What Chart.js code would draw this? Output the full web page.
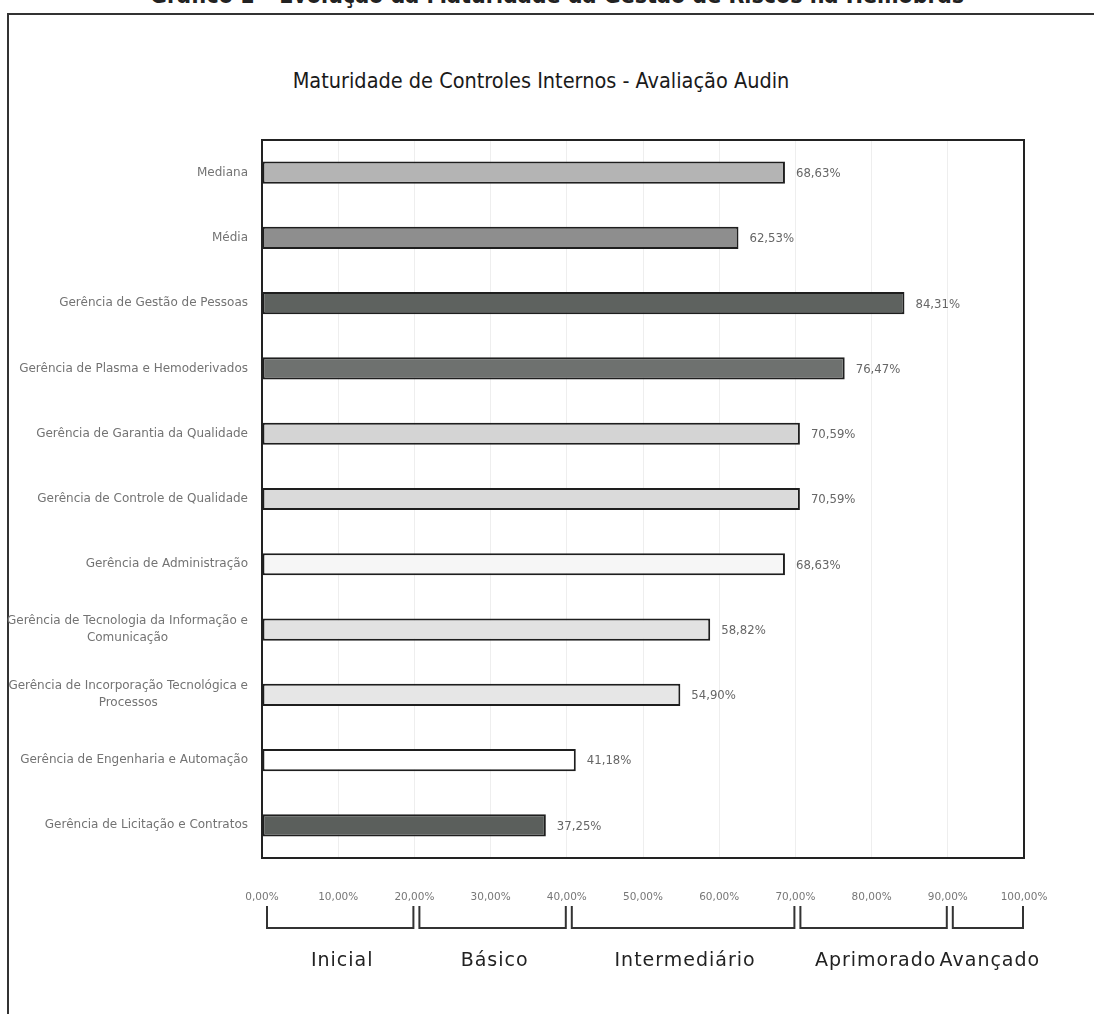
<!DOCTYPE html>
<html>
<head>
<meta charset="utf-8">
<script src="https://cdn.jsdelivr.net/npm/chart.js@4.4.1/dist/chart.umd.min.js"></script>
<style>
  html, body { margin: 0; padding: 0; background: #fff; }
  body { width: 1094px; height: 1014px; position: relative; overflow: hidden; }
  #caption {
    position: absolute; left: 0; width: 1114px; top: -18px; text-align: center;
    font: bold 23px 'Liberation Sans Narrow', 'DejaVu Sans Condensed', sans-serif; color: #222;
  }
  #frameTop { position: absolute; left: 8px; top: 13px; width: 1086px; height: 2px; background: #333; }
  #frameLeft { position: absolute; left: 7px; top: 13px; width: 2px; height: 1001px; background: #333; }
  #title {
    position: absolute; left: 262px; width: 558px; top: 68px; text-align: center;
    font: 21.5px 'Liberation Sans Narrow', 'DejaVu Sans Condensed', sans-serif; color: #1a1a1a;
  }
  canvas { position: absolute; left: 0; top: 0; }
</style>
</head>
<body>
<div id="caption">Gráfico 1 – Evolução da Maturidade da Gestão de Riscos na Hemobrás</div>
<div id="frameTop"></div>
<div id="frameLeft"></div>
<div id="title">Maturidade de Controles Internos - Avaliação Audin</div>
<canvas id="chart" width="1094" height="1014"></canvas>
<script>
// categories, top to bottom
const categories = [
    'Mediana',
    'Média',
    'Gerência de Gestão de Pessoas',
    'Gerência de Plasma e Hemoderivados',
    'Gerência de Garantia da Qualidade',
    'Gerência de Controle de Qualidade',
    'Gerência de Administração',
    ['Gerência de Tecnologia da Informação e', 'Comunicação'],
    ['Gerência de Incorporação Tecnológica e', 'Processos'],
    'Gerência de Engenharia e Automação',
    'Gerência de Licitação e Contratos'
];
const maturity = [68.63, 62.53, 84.31, 76.47, 70.59, 70.59, 68.63, 58.82, 54.90, 41.18, 37.25];
const barColors = ['#b4b4b4', '#8e8e8e', '#5e625f', '#6e716f', '#d4d4d4', '#dadada',
                   '#f6f6f6', '#e2e2e2', '#e6e6e6', '#ffffff', '#5b5f5c'];

// maturity levels under the x axis
const levels = ['Inicial', 'Básico', 'Intermediário', 'Aprimorado', 'Avançado'];
const levelBounds = [0, 20, 40, 70, 90, 100];

const pct = v => v.toFixed(2).replace('.', ',') + '%';

// box around the plot area
const plotBox = {
    id: 'plotBox',
    afterDatasetsDraw(chart) {
        const a = chart.chartArea, ctx = chart.ctx;
        ctx.save();
        ctx.strokeStyle = '#222';
        ctx.lineWidth = 2;
        ctx.strokeRect(a.left, a.top, a.right - a.left, a.bottom - a.top);
        ctx.restore();
    }
};

// category names: right aligned block, lines of a wrapped name centred on each other
const categoryLabels = {
    id: 'categoryLabels',
    afterDraw(chart) {
        const ctx = chart.ctx, y = chart.scales.y;
        const right = chart.chartArea.left - 14;
        const lh = 17;
        ctx.save();
        ctx.font = '12px "DejaVu Sans", sans-serif';
        ctx.fillStyle = '#737373';
        ctx.textAlign = 'center';
        ctx.textBaseline = 'middle';
        categories.forEach((c, i) => {
            const lines = Array.isArray(c) ? c : [c];
            const w = Math.max(...lines.map(l => ctx.measureText(l).width));
            const cx = right - w / 2;
            const cy = y.getPixelForValue(i);
            lines.forEach((l, j) => {
                ctx.fillText(l, cx, cy + (j - (lines.length - 1) / 2) * lh);
            });
        });
        ctx.restore();
    }
};

// value labels at bar ends
const valueLabels = {
    id: 'valueLabels',
    afterDatasetsDraw(chart) {
        const ctx = chart.ctx;
        const meta = chart.getDatasetMeta(0);
        ctx.save();
        ctx.font = '13px "DejaVu Sans Condensed", "DejaVu Sans", sans-serif';
        ctx.fillStyle = '#666';
        ctx.textBaseline = 'middle';
        meta.data.forEach((bar, i) => {
            ctx.fillText(pct(maturity[i]), bar.x + 11, bar.y + 1);
        });
        ctx.restore();
    }
};

// brackets + level names below the tick labels
const levelBrackets = {
    id: 'levelBrackets',
    afterDraw(chart) {
        const ctx = chart.ctx, x = chart.scales.x;
        const yTop = 906, yBot = 928;
        ctx.save();
        ctx.strokeStyle = '#333';
        ctx.lineWidth = 2;
        ctx.font = '19px "DejaVu Sans", sans-serif';
        ctx.letterSpacing = '1px';
        ctx.fillStyle = '#222';
        ctx.textAlign = 'center';
        ctx.textBaseline = 'middle';
        for (let i = 0; i < levels.length; i++) {
            const x0 = x.getPixelForValue(levelBounds[i]) + 5;
            const x1 = x.getPixelForValue(levelBounds[i + 1]) - 1;
            ctx.beginPath();
            ctx.moveTo(x0, yTop);
            ctx.lineTo(x0, yBot);
            ctx.lineTo(x1, yBot);
            ctx.lineTo(x1, yTop);
            ctx.stroke();
            ctx.fillText(levels[i], (x0 + x1) / 2 + 2, 961);
        }
        ctx.restore();
    }
};

new Chart(document.getElementById('chart'), {
    type: 'bar',
    data: {
        labels: categories,
        datasets: [{
            data: maturity,
            backgroundColor: barColors,
            borderColor: '#1e1e1e',
            borderWidth: 2,
            borderSkipped: false,
            barPercentage: 0.34,
            categoryPercentage: 1
        }]
    },
    options: {
        indexAxis: 'y',
        responsive: false,
        animation: false,
        layout: { padding: { top: 140, right: 70, bottom: 0, left: 0 } },
        plugins: {
            legend: { display: false },
            tooltip: { enabled: false }
        },
        scales: {
            x: {
                min: 0,
                max: 100,
                afterFit: s => { s.height = 156; },
                grid: { color: '#eeeeee', drawTicks: false },
                border: { display: false },
                ticks: {
                    stepSize: 10,
                    autoSkip: false,
                    maxRotation: 0,
                    padding: 33,
                    color: '#777',
                    font: { family: '"DejaVu Sans", sans-serif', size: 10.5 },
                    callback: v => pct(v)
                }
            },
            y: {
                afterFit: s => { s.width = 262; },
                grid: { display: false, drawTicks: false },
                border: { display: false },
                ticks: { display: false }
            }
        }
    },
    plugins: [plotBox, categoryLabels, valueLabels, levelBrackets]
});
</script>
</body>
</html>
